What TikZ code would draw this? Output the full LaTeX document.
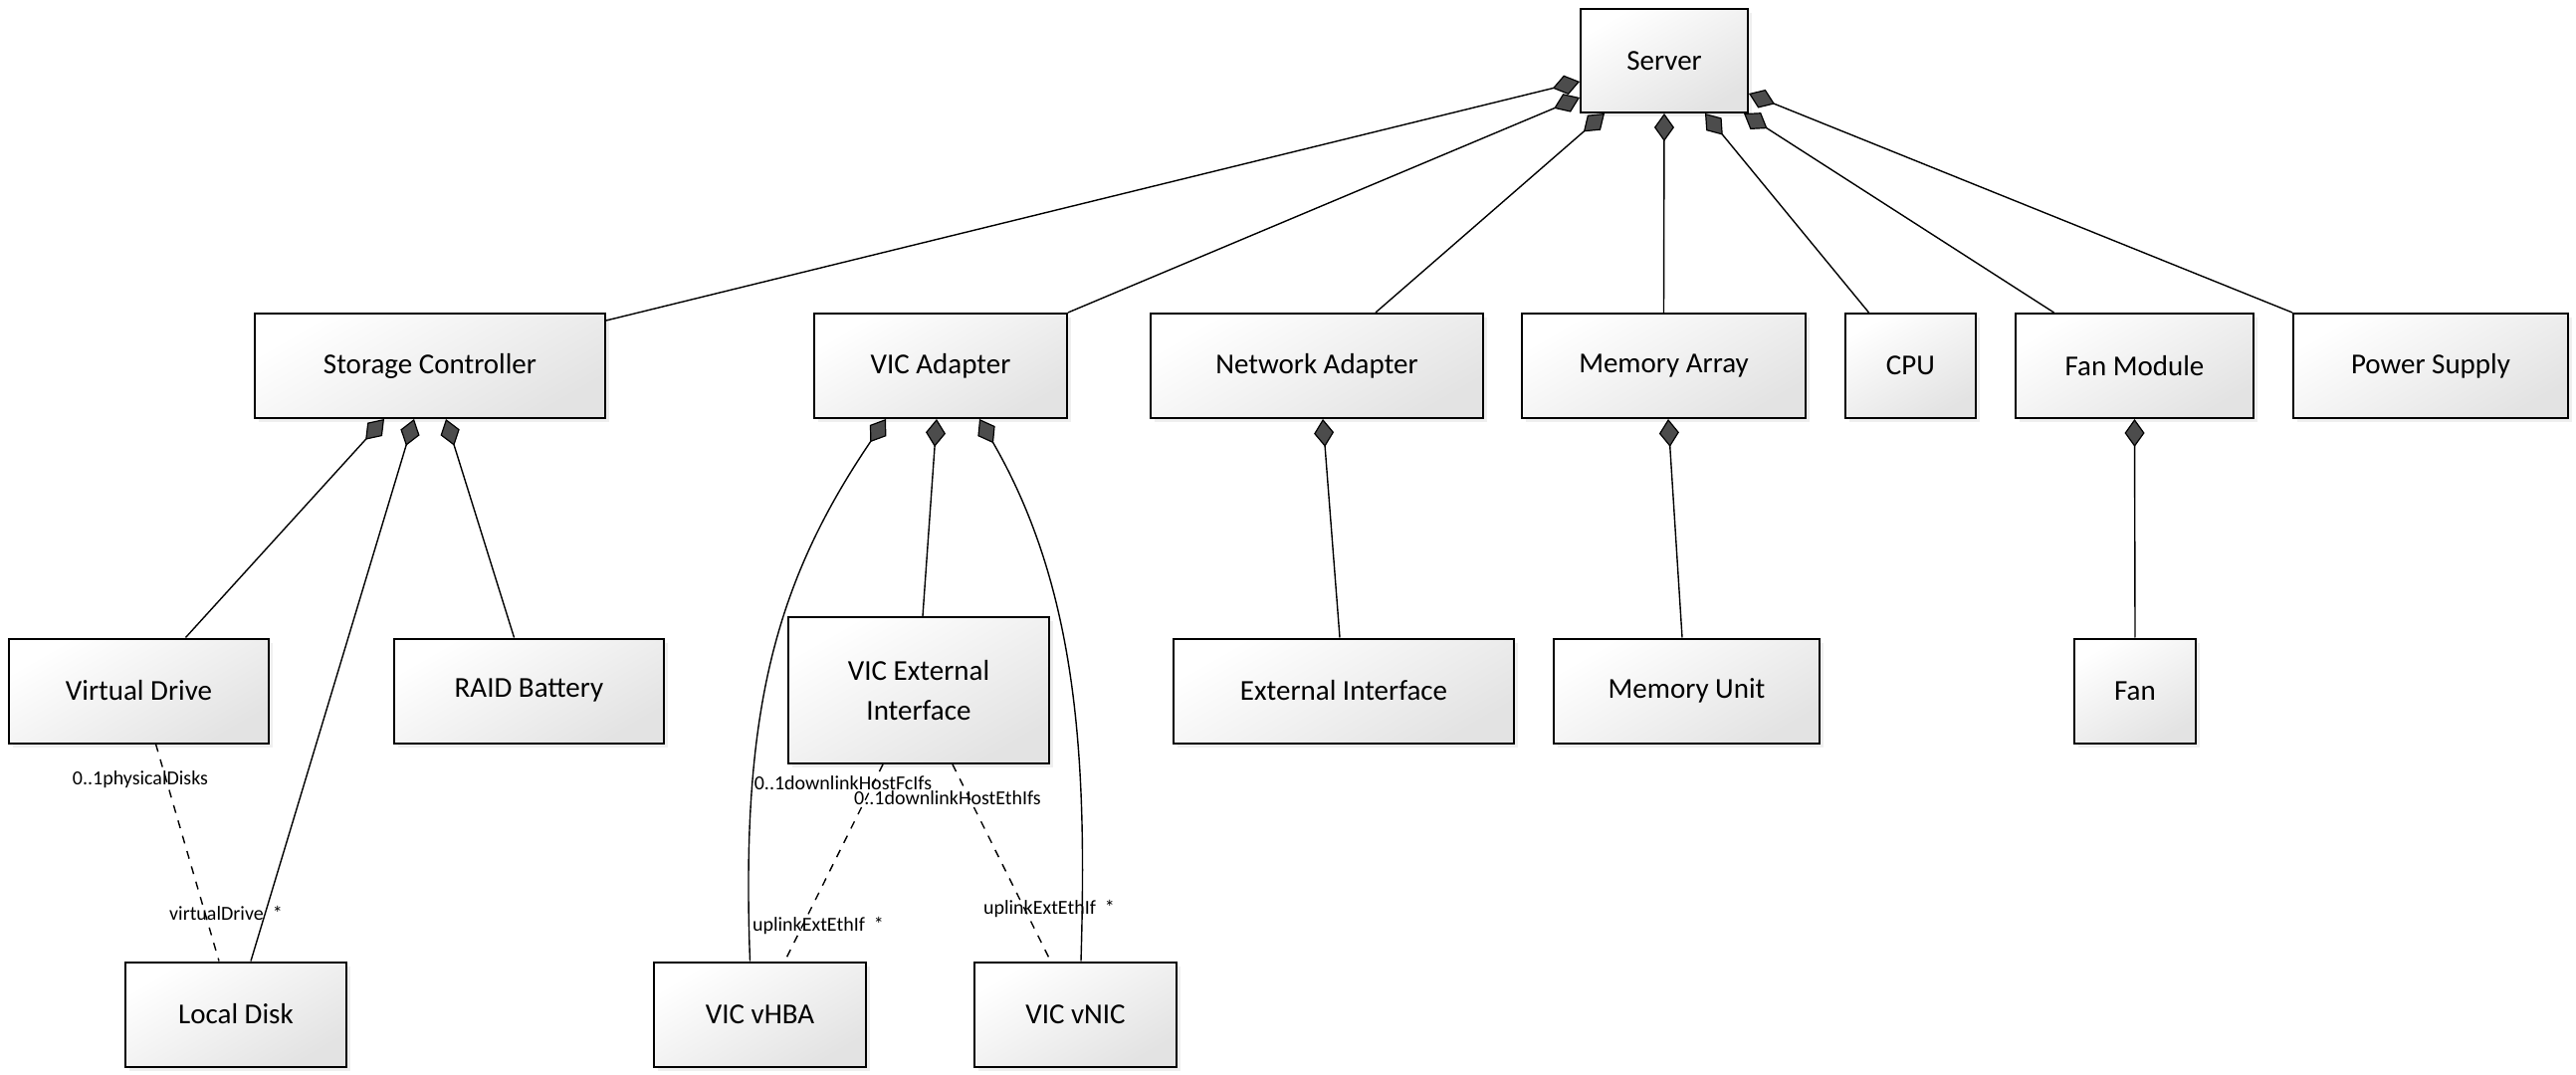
\documentclass[tikz,border=0pt]{standalone}
\usepackage{fontspec}
\setmainfont{Carlito}
\usetikzlibrary{calc,positioning,shapes,shadows}
\usetikzlibrary{arrows.meta}
\tikzset{block/.style = {draw, line width=1pt, rectangle, inner sep=0pt,
                  minimum height=52.5pt, align=center,
                  font=\fontsize{14.5}{20}\selectfont,
                  top color=white, bottom color=black!11, shading angle=30,
                  drop shadow={opacity=0.12, shadow xshift=2pt, shadow yshift=-2pt}},
        comp/.style = {line width=0.7pt,
                  {Diamond[length=14pt,width=10pt,fill=black!70,line width=0.6pt]}-},
        dep/.style = {line width=0.7pt, dash pattern=on 4pt off 4pt},
        lbl/.style = {font=\fontsize{10}{12}\selectfont, inner sep=0pt}
    }
\begin{document}
\begin{tikzpicture}[x=0.5pt, y=0.5pt]
  \path[use as bounding box, fill=white] (0,0) rectangle (2588,-1080);

  % server and its parts
  \node[block, minimum width=84pt, minimum height=52pt] (server) at (1672,-61) {Server};
  \node[block, minimum width=176pt] (sc) at (432,-367.5) {Storage Controller};
  \node[block, minimum width=127pt] (vic) at (945,-367.5) {VIC Adapter};
  \node[block, minimum width=167pt] (na) at (1323,-367.5) {Network Adapter};
  \node[block, minimum width=142.5pt] (ma) at (1671.5,-367.5) {Memory Array};
  \node[block, minimum width=65.5pt] (cpu) at (1919.5,-367.5) {CPU};
  \node[block, minimum width=119.5pt] (fm) at (2144.5,-367.5) {Fan Module};
  \node[block, minimum width=138pt] (ps) at (2442,-367.5) {Power Supply};

  % second level
  \node[block, minimum width=130.5pt] (vd) at (139.5,-694) {Virtual Drive};
  \node[block, minimum width=135.5pt] (raid) at (531.5,-694) {RAID Battery};
  \node[block, minimum width=131pt, minimum height=73.5pt] (vext) at (923,-693.5) {VIC External\\Interface};
  \node[block, minimum width=171pt] (ei) at (1350,-694) {External Interface};
  \node[block, minimum width=133.5pt] (mu) at (1694.5,-694) {Memory Unit};
  \node[block, minimum width=61pt] (fan) at (2145,-694) {Fan};

  % third level
  \node[block, minimum width=111pt] (ld) at (237,-1019) {Local Disk};
  \node[block, minimum width=106.5pt] (vhba) at (763.5,-1019) {VIC vHBA};
  \node[block, minimum width=101.5pt] (vnic) at (1080.5,-1019) {VIC vNIC};

  % server composition
  \draw[comp] ($(server.south west)+(0,32)$) -- ($(sc.north east)+(0,-8)$);
  \draw[comp] ($(server.south west)+(0,16)$) -- (vic.north east);
  \draw[comp] ($(server.south west)+(25,0)$) -- ($(na.north)+(59,0)$);
  \draw[comp] (server.south) -- (ma.north);
  \draw[comp] ($(server.south)+(41,0)$) -- ($(cpu.north)+(-42,0)$);
  \draw[comp] ($(server.south east)+(-5,0)$) -- ($(fm.north)+(-81,0)$);
  \draw[comp] ($(server.south east)+(0,20)$) -- (ps.north west);

  % storage
  \draw[comp] ($(sc.south)+(-46,0)$) -- ($(vd.north)+(47,0)$);
  \draw[comp] ($(sc.south)+(-16,0)$) -- ($(ld.north)+(15,0)$);
  \draw[comp] ($(sc.south)+(16,0)$) -- ($(raid.north)+(-15,0)$);
  \draw[dep] ($(vd.south)+(17,0)$) -- ($(ld.north)+(-17,0)$);
  \node[lbl] (pdisks) at (141,-783) {0..1physicalDisks};
  \node[lbl] (vdrive) at (227,-917) {virtualDrive\ \ *};

  % vic
  \draw[comp] ($(vic.south)+(-55,0)$) .. controls (778,-586) and (744,-717) .. ($(vhba.north)+(-10,0)$);
  \draw[comp] ($(vic.south)+(-4,0)$) -- ($(vext.north)+(4,0)$);
  \draw[comp] ($(vic.south)+(39,0)$) .. controls (1084,-594) and (1092,-767) .. ($(vnic.north)+(5.5,0)$);
  \draw[dep] ($(vext.south)+(-36,0)$) -- ($(vhba.north)+(25,0)$);
  \draw[dep] ($(vext.south)+(34,0)$) -- ($(vnic.north)+(-25,0)$);
  \node[lbl] (fcifs) at (847,-787) {0..1downlinkHostFcIfs};
  \node[lbl] (ethifs) at (952,-802) {0..1downlinkHostEthIfs};
  \node[lbl] (upfc) at (822,-930) {uplinkExtEthIf\ \ *};
  \node[lbl] (upeth) at (1054,-913) {uplinkExtEthIf\ \ *};

  % the rest
  \draw[comp] ($(na.south)+(6,0)$) -- ($(ei.north)+(-4,0)$);
  \draw[comp] ($(ma.south)+(4.5,0)$) -- ($(mu.north)+(-4.5,0)$);
  \draw[comp] (fm.south) -- (fan.north);
\end{tikzpicture}
\end{document}
